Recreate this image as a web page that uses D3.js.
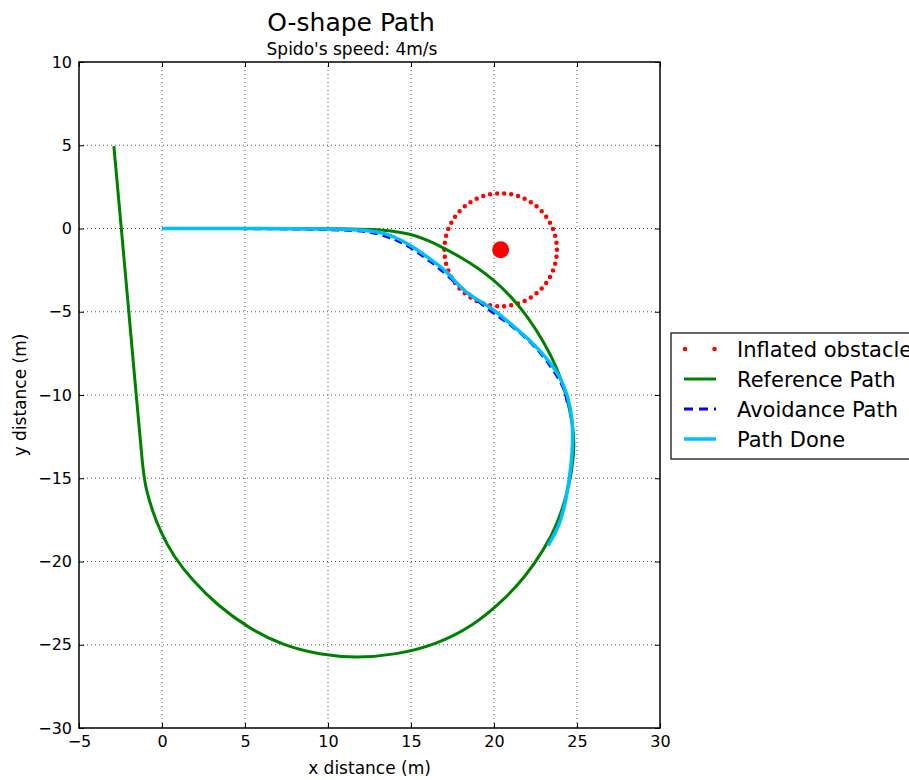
<!DOCTYPE html>
<html>
<head>
<meta charset="utf-8">
<script src="https://cdn.jsdelivr.net/npm/d3@7"></script>
<style>
    body { margin: 0; background: #fff; }
    svg { display: block; font-family: "DejaVu Sans", sans-serif; }
</style>
</head>
<body>
<div id="chart"></div>
<script>
// tick values
const xTicks = [-5, 0, 5, 10, 15, 20, 25, 30];
const yTicks = [10, 5, 0, -5, -10, -15, -20, -25, -30];

// reference path (green)
const refX = [0, 12, 13.5, 15, 16, 17, 18, 19, 20, 21, 22, 23, 23.8, 24.4, 24.75, 24.85, 24.7, 24.35, 23.8, 23.0, 21.9, 20.5, 18.7, 16.5, 14.1, 11.7, 9.5, 7.3, 5.2, 3.3, 1.8, 0.7, -0.1, -0.6, -0.95, -1.15, -1.55, -2, -2.45, -2.9];
const refY = [0, 0, -0.1, -0.32, -0.7, -1.18, -1.73, -2.35, -3.1, -4.05, -5.25, -6.8, -8.35, -10.1, -11.8, -13, -14.6, -16.1, -17.8, -19.3, -20.9, -22.4, -23.9, -25.0, -25.6, -25.8, -25.6, -25.05, -24.0, -22.6, -21.1, -19.7, -18.2, -16.9, -15.7, -14.6, -10, -5, 0, 4.95];

// avoidance path (blue dashed)
const avoidX = [0, 6, 11.9, 13.1, 14.1, 15.0, 15.8, 16.5, 17.3, 18.1, 18.9, 19.75, 20.95, 22.15, 23.05, 23.86, 24.26, 24.46];
const avoidY = [0, 0, -0.07, -0.33, -0.67, -1.13, -1.73, -2.19, -2.93, -3.63, -4.23, -4.94, -5.74, -6.74, -7.74, -8.94, -9.64, -10.64];

// path done (cyan)
const doneX = [0, 6, 12.3, 13.5, 14.5, 15.3, 16.3, 17.1, 17.7, 18.3, 19.1, 19.9, 20.9, 22.1, 23.15, 23.96, 24.46, 24.72, 24.76, 24.66, 24.36, 23.96, 23.25];
const doneY = [0, 0, -0.03, -0.29, -0.73, -1.23, -1.93, -2.53, -3.23, -3.83, -4.34, -4.8, -5.64, -6.64, -7.74, -8.84, -10.04, -11.44, -12.64, -14.24, -16.24, -17.85, -19.05];

// obstacle
const obstacleCenter = [20.4, -1.28];
const obstacleRadius = 3.39;
const obstacleDots = 50;

const legendLabels = ['Inflated obstacle', 'Reference Path', 'Avoidance Path', 'Path Done'];

const margin = { top: 62, left: 79 };
const width = 581;
const height = 666;

const svg = d3.select('#chart')
    .append('svg')
    .attr('width', 909)
    .attr('height', 780);

const x = d3.scaleLinear().domain([-5, 30]).range([0, width]);
const y = d3.scaleLinear().domain([-30, 10]).range([height, 0]);

const g = svg.append('g')
    .attr('transform', `translate(${margin.left},${margin.top})`);

// grid
g.selectAll('.vgrid')
    .data(xTicks.slice(1, -1))
    .enter()
    .append('line')
    .attr('x1', d => x(d)).attr('x2', d => x(d))
    .attr('y1', 0).attr('y2', height)
    .attr('stroke', '#444')
    .attr('stroke-width', 0.9)
    .attr('stroke-dasharray', '1,3');

g.selectAll('.hgrid')
    .data(yTicks.slice(1, -1))
    .enter()
    .append('line')
    .attr('y1', d => y(d)).attr('y2', d => y(d))
    .attr('x1', 0).attr('x2', width)
    .attr('stroke', '#444')
    .attr('stroke-width', 0.9)
    .attr('stroke-dasharray', '1,3');

const fmt = d => d < 0 ? '\u2212' + Math.abs(d) : String(d);

// axes
const xAxis = g.append('g')
    .attr('transform', `translate(0,${height})`)
    .call(d3.axisBottom(x).tickValues(xTicks).tickFormat(fmt).tickSizeInner(-5).tickSizeOuter(0).tickPadding(8));
const yAxis = g.append('g')
    .call(d3.axisLeft(y).tickValues(yTicks).tickFormat(fmt).tickSizeInner(-5).tickSizeOuter(0).tickPadding(7));
g.append('g')
    .call(d3.axisTop(x).tickValues(xTicks).tickFormat('').tickSizeInner(-5).tickSizeOuter(0));
g.append('g')
    .attr('transform', `translate(${width},0)`)
    .call(d3.axisRight(y).tickValues(yTicks).tickFormat('').tickSizeInner(-5).tickSizeOuter(0));

g.selectAll('.domain').remove();
g.selectAll('.tick line').attr('stroke', '#000');
[xAxis, yAxis].forEach(a => a.selectAll('text')
    .style('font-size', '16px')
    .style('font-family', '"DejaVu Sans", sans-serif')
    .attr('fill', '#000'));

// obstacle
g.append('ellipse')
    .attr('cx', x(obstacleCenter[0]))
    .attr('cy', y(obstacleCenter[1]))
    .attr('rx', x(obstacleCenter[0] + obstacleRadius) - x(obstacleCenter[0]))
    .attr('ry', y(obstacleCenter[1] - obstacleRadius) - y(obstacleCenter[1]))
    .attr('pathLength', obstacleDots)
    .attr('fill', 'none')
    .attr('stroke', '#ff0000')
    .attr('stroke-width', 4.5)
    .attr('stroke-linecap', 'round')
    .attr('stroke-dasharray', '0 1');

const line = d3.line()
    .x(d => x(d[0]))
    .y(d => y(d[1]))
    .curve(d3.curveBasis);

const zip = (xs, ys) => xs.map((v, i) => [v, ys[i]]);

g.append('path')
    .datum(zip(refX, refY))
    .attr('fill', 'none')
    .attr('stroke', '#008000')
    .attr('stroke-width', 3)
    .attr('d', line);

g.append('path')
    .datum(zip(avoidX, avoidY))
    .attr('fill', 'none')
    .attr('stroke', '#0000ff')
    .attr('stroke-width', 3)
    .attr('stroke-dasharray', '8,5')
    .attr('d', line);

g.append('path')
    .datum(zip(doneX, doneY))
    .attr('fill', 'none')
    .attr('stroke', '#00bfff')
    .attr('stroke-width', 3.5)
    .attr('d', line);

g.append('circle')
    .attr('cx', x(obstacleCenter[0]))
    .attr('cy', y(obstacleCenter[1]))
    .attr('r', 8.5)
    .attr('fill', '#ff0000');

// frame
g.append('rect')
    .attr('width', width)
    .attr('height', height)
    .attr('fill', 'none')
    .attr('stroke', '#000')
    .attr('stroke-width', 1.5);

// titles
svg.append('text')
    .attr('x', 351)
    .attr('y', 31)
    .attr('text-anchor', 'middle')
    .style('font-size', '25px')
    .text('O-shape Path');
svg.append('text')
    .attr('x', 352)
    .attr('y', 55)
    .attr('text-anchor', 'middle')
    .style('font-size', '17px')
    .text("Spido's speed: 4m/s");

svg.append('text')
    .attr('x', margin.left + width / 2)
    .attr('y', 774)
    .attr('text-anchor', 'middle')
    .style('font-size', '17px')
    .text('x distance (m)');
svg.append('text')
    .attr('transform', `translate(26,${margin.top + height / 2}) rotate(-90)`)
    .attr('text-anchor', 'middle')
    .style('font-size', '17px')
    .text('y distance (m)');

// legend (runs past the right edge, as in the original figure)
const legend = svg.append('g').attr('transform', 'translate(671,333)');
legend.append('rect')
    .attr('width', 260)
    .attr('height', 126)
    .attr('fill', '#fff')
    .attr('stroke', '#000')
    .attr('stroke-width', 1.2);

const rows = legend.selectAll('.row')
    .data(legendLabels)
    .enter()
    .append('g')
    .attr('transform', (d, i) => `translate(0,${16 + i * 30})`);

rows.append('text')
    .attr('x', 66)
    .attr('y', 7.5)
    .style('font-size', '21px')
    .text(d => d);

const legendLines = [
    { color: '#008000', dash: null, w: 3 },
    { color: '#0000ff', dash: '9,6', w: 3 },
    { color: '#00bfff', dash: null, w: 3.5 }
];
rows.filter((d, i) => i > 0)
    .append('line')
    .attr('x1', 13).attr('x2', 45)
    .attr('y1', 0).attr('y2', 0)
    .attr('stroke', (d, i) => legendLines[i].color)
    .attr('stroke-width', (d, i) => legendLines[i].w)
    .attr('stroke-dasharray', (d, i) => legendLines[i].dash);

rows.filter((d, i) => i === 0)
    .selectAll('circle')
    .data([14, 43.5])
    .enter()
    .append('circle')
    .attr('cx', d => d)
    .attr('cy', 0)
    .attr('r', 2.3)
    .attr('fill', '#ff0000');
</script>
</body>
</html>
